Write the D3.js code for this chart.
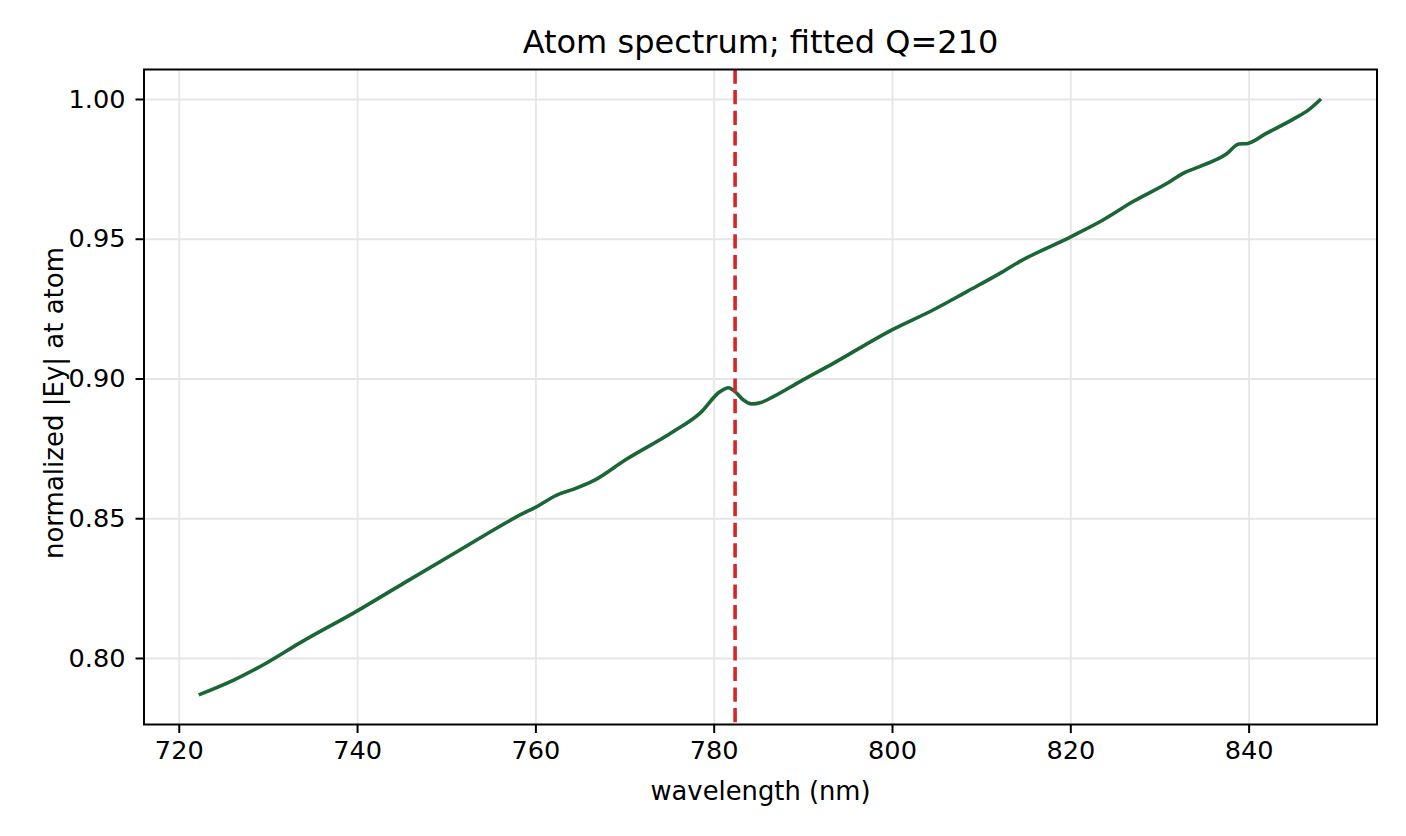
<!DOCTYPE html>
<html>
<head>
<meta charset="utf-8">
<script src="https://cdn.jsdelivr.net/npm/d3@7"></script>
<style>
  body { margin: 0; background: #fff; }
  svg { font-family: "DejaVu Sans", sans-serif; }
</style>
</head>
<body>
<div id="chart"></div>
<script>
// values
const wavelength = [
  722.24, 726.16, 729.9, 733.64, 739.88, 745.2, 751.2, 758.67, 760.0, 762.4,
  764.3, 766.7, 770.07, 775.48, 778.47, 780.71, 781.65, 782.4, 783.33, 784.27,
  785.2, 786.69, 789.68, 793.41, 800.0, 804.6, 808.4, 812.1, 814.3, 820.05,
  823.67, 827.04, 831.15, 832.64, 834.5, 837.5, 838.9, 839.9, 841.98, 844.96,
  846.8, 848.12
];
const eyNorm = [
  0.7868, 0.7921, 0.7983, 0.8055, 0.8166, 0.8267, 0.8380, 0.8518, 0.8539, 0.8583,
  0.8604, 0.8637, 0.8708, 0.8810, 0.8876, 0.8953, 0.8967, 0.8953, 0.8923, 0.8909,
  0.8913, 0.8935, 0.8989, 0.9054, 0.9174, 0.9245, 0.9311, 0.9376, 0.9418, 0.9507,
  0.9567, 0.9633, 0.9704, 0.9734, 0.9758, 0.9803, 0.9839, 0.9841, 0.9877, 0.9927,
  0.9963, 1.0000
];
const atomLine = 782.4;
const xTicks = [720, 740, 760, 780, 800, 820, 840];
const yTicks = [0.80, 0.85, 0.90, 0.95, 1.00];

const W = 1406, H = 836;
const margin = { top: 69.5, right: 29, bottom: 111.5, left: 144 };
const width = W - margin.left - margin.right,
      height = H - margin.top - margin.bottom;

const svg = d3.select("#chart").append("svg")
    .attr("width", W)
    .attr("height", H);

const g = svg.append("g")
    .attr("transform", "translate(" + margin.left + "," + margin.top + ")");

const x = d3.scaleLinear().domain([716.1, 854.4]).range([0, width]);
const y = d3.scaleLinear().domain([0.7762, 1.01055]).range([height, 0]);

// grid
g.append("g")
    .attr("class", "grid")
    .call(d3.axisBottom(x).tickValues(xTicks).tickSize(height).tickFormat(""))
    .call(s => s.select(".domain").remove())
    .selectAll("line").attr("stroke", "#e6e6e6").attr("stroke-width", 1.8);
g.append("g")
    .attr("class", "grid")
    .call(d3.axisLeft(y).tickValues(yTicks).tickSize(-width).tickFormat(""))
    .call(s => s.select(".domain").remove())
    .selectAll("line").attr("stroke", "#e6e6e6").attr("stroke-width", 1.8);

// spectrum
const data = wavelength.map((w, i) => ({ w: w, v: eyNorm[i] }));
const line = d3.line().x(d => x(d.w)).y(d => y(d.v)).curve(d3.curveMonotoneX);

g.append("path")
    .datum(data)
    .attr("fill", "none")
    .attr("stroke", "#1b6635")
    .attr("stroke-width", 3.6)
    .attr("stroke-linejoin", "round")
    .attr("d", line);

// atom resonance
g.append("line")
    .attr("x1", x(atomLine)).attr("x2", x(atomLine))
    .attr("y1", 0).attr("y2", height)
    .attr("stroke", "#d62728")
    .attr("stroke-width", 3.6)
    .attr("stroke-dasharray", "14.2 6.4");

// frame
g.append("rect")
    .attr("width", width).attr("height", height)
    .attr("fill", "none").attr("stroke", "#000").attr("stroke-width", 2);

// axes
const xAxis = g.append("g")
    .attr("transform", "translate(0," + height + ")")
    .call(d3.axisBottom(x).tickValues(xTicks).tickSize(8.5).tickPadding(8).tickFormat(d3.format("d")));
const yAxis = g.append("g")
    .call(d3.axisLeft(y).tickValues(yTicks).tickSize(8.5).tickPadding(10).tickFormat(d3.format(".2f")));

[xAxis, yAxis].forEach(a => {
  a.select(".domain").remove();
  a.selectAll("line").attr("stroke", "#000").attr("stroke-width", 2);
  a.selectAll("text").attr("font-family", "DejaVu Sans").attr("font-size", 25.6).attr("fill", "#000");
});

// labels
svg.append("text")
    .attr("x", margin.left + width / 2).attr("y", 53.3)
    .attr("text-anchor", "middle")
    .attr("font-size", 32)
    .text("Atom spectrum; fitted Q=210");

svg.append("text")
    .attr("x", margin.left + width / 2).attr("y", 800)
    .attr("text-anchor", "middle")
    .attr("font-size", 25.8)
    .text("wavelength (nm)");

svg.append("text")
    .attr("transform", "translate(63," + (margin.top + height / 2 + 6) + ") rotate(-90)")
    .attr("text-anchor", "middle")
    .attr("font-size", 26)
    .text("normalized |Ey| at atom");
</script>
</body>
</html>
